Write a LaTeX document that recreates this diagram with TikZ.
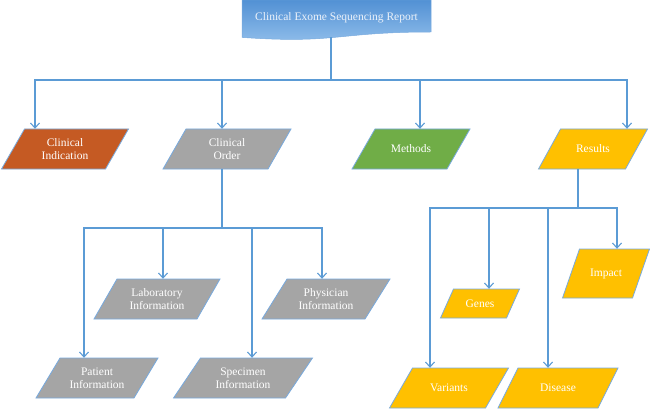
\documentclass[tikz,border=0pt]{standalone}
\usepackage{fontspec}
\setmainfont{Liberation Serif}
\usetikzlibrary{arrows.meta}
\definecolor{lnblue}{RGB}{91,155,213}
\definecolor{pbdr}{RGB}{120,170,222}
\definecolor{ciorange}{RGB}{197,90,35}
\definecolor{pgrey}{RGB}{165,165,165}
\definecolor{pgreen}{RGB}{112,173,71}
\definecolor{pgold}{RGB}{255,192,0}
\definecolor{ttop}{RGB}{82,145,212}
\definecolor{tbot}{RGB}{145,190,235}
\definecolor{ttext}{RGB}{236,242,250}
\tikzset{
  ptext/.style={text=white, font=\fontsize{11.5}{12.8}\selectfont, align=center, inner sep=0pt},
  line/.style={draw=lnblue, line width=1.1pt},
  arr/.style={line, -{Straight Barb[length=5pt,width=9pt]}},
  pbord/.style={draw=pbdr, line width=0.8pt}
}
\newcommand\pgram[8]{%
  \filldraw[pbord, fill=#7] ({#2-#4/2+#6/2},{#3-#5/2}) -- ({#2+#4/2+#6/2},{#3-#5/2}) -- ({#2+#4/2-#6/2},{#3+#5/2}) -- ({#2-#4/2-#6/2},{#3+#5/2}) -- cycle;
  \node[ptext, minimum width=#4pt, minimum height=#5pt] (#1) at (#2,#3) {#8};}
\begin{document}
\begin{tikzpicture}[x=1pt,y=-1pt]
\useasboundingbox (0,0) rectangle (650,409);
% title
\shade[top color=ttop, bottom color=tbot, draw=pbdr, line width=0.5pt]
  (242,0) -- (431,0) -- (431,32) .. controls (336.5,32) and (336.5,44) .. (242,37.4) -- cycle;
\node[ptext, text=ttext, minimum width=189pt, minimum height=36pt] (T) at (336.5,18) {Clinical Exome Sequencing Report};
% level 1
\pgram{CI}{65}{149}{104}{40}{23}{ciorange}{Clinical\\Indication}
\pgram{CO}{227}{149}{105}{40}{23}{pgrey}{Clinical\\Order}
\pgram{M}{411}{149}{95}{40}{23}{pgreen}{Methods}
\pgram{R}{593}{149}{87}{40}{22}{pgold}{Results}
% level 2
\pgram{La}{157}{299}{103}{40}{23}{pgrey}{Laboratory\\Information}
\pgram{Ph}{326}{299}{103}{40}{25}{pgrey}{Physician\\Information}
\pgram{Pa}{97}{378}{98}{40}{24}{pgrey}{Patient\\Information}
\pgram{Sp}{243}{378}{112}{40}{27}{pgrey}{Specimen\\Information}
\pgram{Im}{606}{273.5}{70}{49}{17}{pgold}{Impact}
\pgram{Ge}{480}{303.5}{66}{29}{13}{pgold}{Genes}
\pgram{Va}{449}{388}{96}{40}{23}{pgold}{Variants}
\pgram{Di}{558}{388}{100}{40}{20}{pgold}{Disease}
% connectors
\coordinate (bus1) at (331,80);
\coordinate (bus2) at (222,228);
\coordinate (bus3) at (578,208);
\draw[line] ([xshift=-5.5pt,yshift=-1pt]T.south) -- (bus1);
\draw[arr] (bus1) -| ([xshift=-30pt]CI.north);
\draw[arr] (bus1) -| ([xshift=-5pt]CO.north);
\draw[arr] (bus1) -| ([xshift=9pt]M.north);
\draw[arr] (bus1) -| ([xshift=34pt]R.north);
\draw[line] ([xshift=-5pt]CO.south) -- (bus2);
\draw[arr] (bus2) -| ([xshift=-13pt]Pa.north);
\draw[arr] (bus2) -| ([xshift=6pt]La.north);
\draw[arr] (bus2) -| ([xshift=9pt]Sp.north);
\draw[arr] (bus2) -| ([xshift=-4pt]Ph.north);
\draw[line] ([xshift=-15pt]R.south) -- (bus3);
\draw[arr] (bus3) -| ([xshift=-19pt]Va.north);
\draw[arr] (bus3) -| ([xshift=9pt]Ge.north);
\draw[arr] (bus3) -| ([xshift=-10pt]Di.north);
\draw[arr] (bus3) -| ([xshift=11pt]Im.north);
\end{tikzpicture}
\end{document}
